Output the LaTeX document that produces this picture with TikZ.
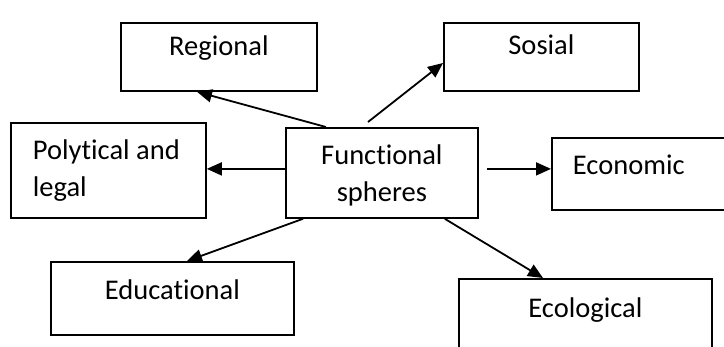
\documentclass[tikz,border=0pt]{standalone}
\usepackage{fontspec}
\usepackage{tikz}
\usetikzlibrary{arrows.meta}
\newfontfamily\boxfont[Ligatures=NoCommon]{Carlito}
\tikzset{
  sphere/.style={draw, line width=1.8pt, rectangle, anchor=north west,
    inner xsep=0pt, inner ysep=0pt, font=\boxfont\fontsize{28.5}{36.5}\selectfont},
  arr/.style={line width=1.8pt, -{Triangle[length=15pt,width=13pt]}}
}
\begin{document}
\begin{tikzpicture}[x=1pt, y=-1pt]
    \useasboundingbox (0, 0) rectangle (724, 346);
    \clip (0, 0) rectangle (724, 346);

    \node[sphere, text width=196, align=center, text height=33, text depth=35] (reg) at (120, 22) {Regional};
    \node[sphere, text width=195, align=center, text height=32, text depth=36] (sos) at (443, 22) {Sosial};
    \node[sphere, inner xsep=22pt, text width=151, align=flush left, text height=37, text depth=58] (pol) at (10, 122) {Polytical and\\legal};
    \node[sphere, text width=192, align=center, text height=37, text depth=53] (func) at (285, 127) {Functional\\spheres};
    \node[sphere, inner xsep=21pt, text width=168, align=flush left, text height=37, text depth=35] (eco) at (551, 137) {Economic};
    \node[sphere, text width=243, align=center, text height=38, text depth=35] (edu) at (50, 261) {Educational};
    \node[sphere, text width=253, align=center, text height=39, text depth=61] (ecol) at (458, 278) {Ecological};

    \draw[arr] ([xshift=41]func.north west) -- ([xshift=77]reg.south west);
    \draw[arr] ([xshift=83, yshift=5]func.north west) -- ([yshift=-41]sos.north west);
    \draw[arr] ([yshift=4]func.west) -- ([yshift=4]func.west -| pol.east);
    \draw[arr] ([xshift=8, yshift=4]func.east) -- ([yshift=4]func.east -| eco.west);
    \draw[arr] ([xshift=18]func.south west) -- ([xshift=137]edu.north west);
    \draw[arr] ([xshift=-34]func.south east) -- ([xshift=85]ecol.north west);

\end{tikzpicture}
\end{document}
